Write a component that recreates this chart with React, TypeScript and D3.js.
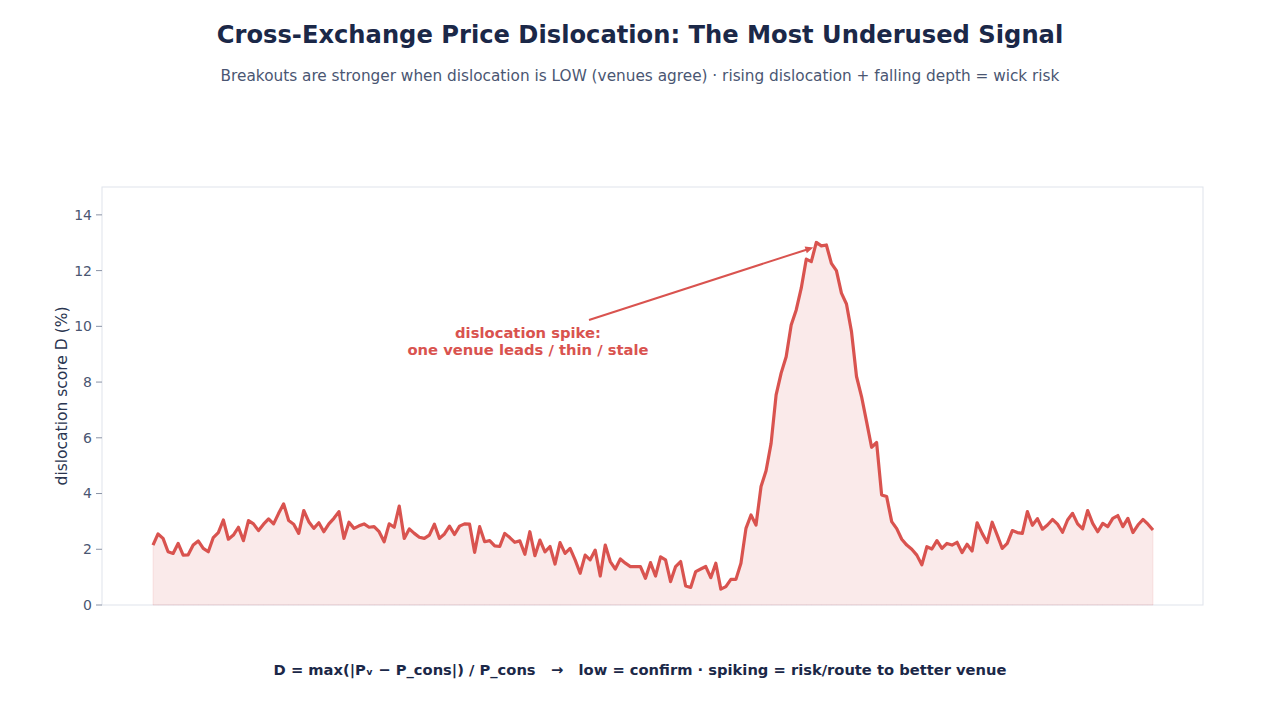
import React from "react";
import * as d3 from "d3";

const dislocation: number[] = [
  2.15, 2.55, 2.39, 1.91, 1.85, 2.21, 1.79, 1.8, 2.15, 2.3,
  2.03, 1.91, 2.42, 2.6, 3.05, 2.36, 2.51, 2.79, 2.31, 3.03,
  2.91, 2.67, 2.9, 3.09, 2.91, 3.29, 3.63, 3.03, 2.9, 2.57,
  3.39, 2.99, 2.75, 2.95, 2.63, 2.91, 3.11, 3.35, 2.39, 2.97,
  2.75, 2.84, 2.91, 2.79, 2.81, 2.63, 2.27, 2.91, 2.79, 3.55,
  2.39, 2.73, 2.57, 2.43, 2.39, 2.51, 2.9, 2.39, 2.55, 2.83,
  2.53, 2.83, 2.91, 2.9, 1.89, 2.81, 2.27, 2.31, 2.12, 2.1,
  2.57, 2.42, 2.25, 2.3, 1.82, 2.63, 1.77, 2.33, 1.91, 2.1,
  1.47, 2.24, 1.85, 2.03, 1.62, 1.14, 1.79, 1.62, 1.97, 1.04,
  2.15, 1.56, 1.29, 1.65, 1.5, 1.38, 1.38, 1.38, 0.96, 1.52,
  1.04, 1.73, 1.62, 0.84, 1.38, 1.56, 0.68, 0.63, 1.2, 1.29,
  1.38, 0.98, 1.5, 0.57, 0.66, 0.92, 0.92, 1.5, 2.75, 3.23,
  2.87, 4.25, 4.82, 5.8, 7.54, 8.32, 8.91, 10.05, 10.59, 11.37,
  12.41, 12.32, 13.01, 12.89, 12.92, 12.26, 12.0, 11.19, 10.8, 9.81,
  8.2, 7.48, 6.58, 5.66, 5.83, 3.95, 3.89, 2.99, 2.74, 2.36,
  2.15, 2.0, 1.79, 1.44, 2.09, 2.01, 2.31, 2.03, 2.21, 2.15,
  2.25, 1.88, 2.18, 1.94, 2.95, 2.57, 2.24, 2.97, 2.51, 2.03,
  2.21, 2.67, 2.6, 2.57, 3.35, 2.86, 3.1, 2.72, 2.87, 3.07,
  2.9, 2.61, 3.05, 3.29, 2.91, 2.73, 3.39, 2.93, 2.63, 2.93,
  2.81, 3.11, 3.21, 2.81, 3.11, 2.6, 2.87, 3.07, 2.9, 2.69,
];

const yTicks: number[] = [0, 2, 4, 6, 8, 10, 12, 14];
const spikeIndex = 132;

const titleText = "Cross-Exchange Price Dislocation: The Most Underused Signal";
const subtitleText =
  "Breakouts are stronger when dislocation is LOW (venues agree) · rising dislocation + falling depth = wick risk";
const footerText =
  "D = max(|Pᵥ − P_cons|) / P_cons   →   low = confirm · spiking = risk/route to better venue";
const annotationLines: string[] = ["dislocation spike:", "one venue leads / thin / stale"];
const yLabel = "dislocation score D (%)";

const W = 1280;
const H = 720;
const plot = { left: 102, right: 1203, top: 187, bottom: 605 };
const pad = 51;

const RED = "#d9534f";
const DARK = "#1b2848";
const MUTED = "#4a5672";
const FONT = "'DejaVu Sans', sans-serif";

export default function App() {
  const x = d3
    .scaleLinear()
    .domain([0, dislocation.length - 1])
    .range([plot.left + pad, plot.right - pad + 1]);
  const y = d3.scaleLinear().domain([0, 15]).range([plot.bottom, plot.top]);

  const line = d3
    .line<number>()
    .x((_, i) => x(i))
    .y((d) => y(d));
  const area = d3
    .area<number>()
    .x((_, i) => x(i))
    .y0(y(0))
    .y1((d) => y(d));

  const peakX = x(spikeIndex);
  const peakY = y(dislocation[spikeIndex]);
  const tailX = 589;
  const tailY = 320;
  const tipX = peakX - 3;
  const tipY = peakY + 5;
  const ang = Math.atan2(tipY - tailY, tipX - tailX);
  const ah = 8;
  const aw = 3.5;
  const headPts = [
    [tipX, tipY],
    [tipX - ah * Math.cos(ang) + aw * Math.sin(ang), tipY - ah * Math.sin(ang) - aw * Math.cos(ang)],
    [tipX - ah * Math.cos(ang) - aw * Math.sin(ang), tipY - ah * Math.sin(ang) + aw * Math.cos(ang)],
  ]
    .map((p) => p.join(","))
    .join(" ");

  return (
    <svg width={W} height={H} style={{ position: "absolute", left: 0, top: 0, background: "#fff" }}>
      <text x={640} y={43} textAnchor="middle" fontFamily={FONT} fontWeight="bold" fontSize={24.2} fill={DARK}>
        {titleText}
      </text>
      <text x={640} y={81} textAnchor="middle" fontFamily={FONT} fontSize={15.3} fill={MUTED}>
        {subtitleText}
      </text>

      <rect
        x={plot.left}
        y={plot.top}
        width={plot.right - plot.left}
        height={plot.bottom - plot.top}
        fill="none"
        stroke="#dfe3eb"
        strokeWidth={1}
      />

      {yTicks.map((t) => (
        <g key={t} transform={`translate(0,${y(t)})`}>
          <line x1={plot.left - 6} x2={plot.left} stroke="#8a93a6" strokeWidth={1} />
          <text x={plot.left - 10} dy="0.35em" textAnchor="end" fontFamily={FONT} fontSize={14} fill={MUTED}>
            {t}
          </text>
        </g>
      ))}

      <text
        transform={`translate(67,${(plot.top + plot.bottom) / 2}) rotate(-90)`}
        textAnchor="middle"
        fontFamily={FONT}
        fontSize={15.5}
        fill="#2a3550"
      >
        {yLabel}
      </text>

      <path d={area(dislocation) || ""} fill={RED} fillOpacity={0.12} stroke={RED} strokeOpacity={0.12} />
      <path d={line(dislocation) || ""} fill="none" stroke={RED} strokeWidth={3.2} strokeLinejoin="round" />

      <line
        x1={tailX}
        y1={tailY}
        x2={tipX - 4 * Math.cos(ang)}
        y2={tipY - 4 * Math.sin(ang)}
        stroke={RED}
        strokeWidth={2}
      />
      <polygon points={headPts} fill={RED} />

      {annotationLines.map((s, i) => (
        <text
          key={s}
          x={528}
          y={338 + i * 17}
          textAnchor="middle"
          fontFamily={FONT}
          fontWeight="bold"
          fontSize={14.75}
          fill={RED}
        >
          {s}
        </text>
      ))}

      <text
        x={640}
        y={675}
        textAnchor="middle"
        fontFamily={FONT}
        fontWeight="bold"
        fontSize={14.7}
        fill={DARK}
        style={{ whiteSpace: "pre" }}
      >
        {footerText}
      </text>
    </svg>
  );
}
